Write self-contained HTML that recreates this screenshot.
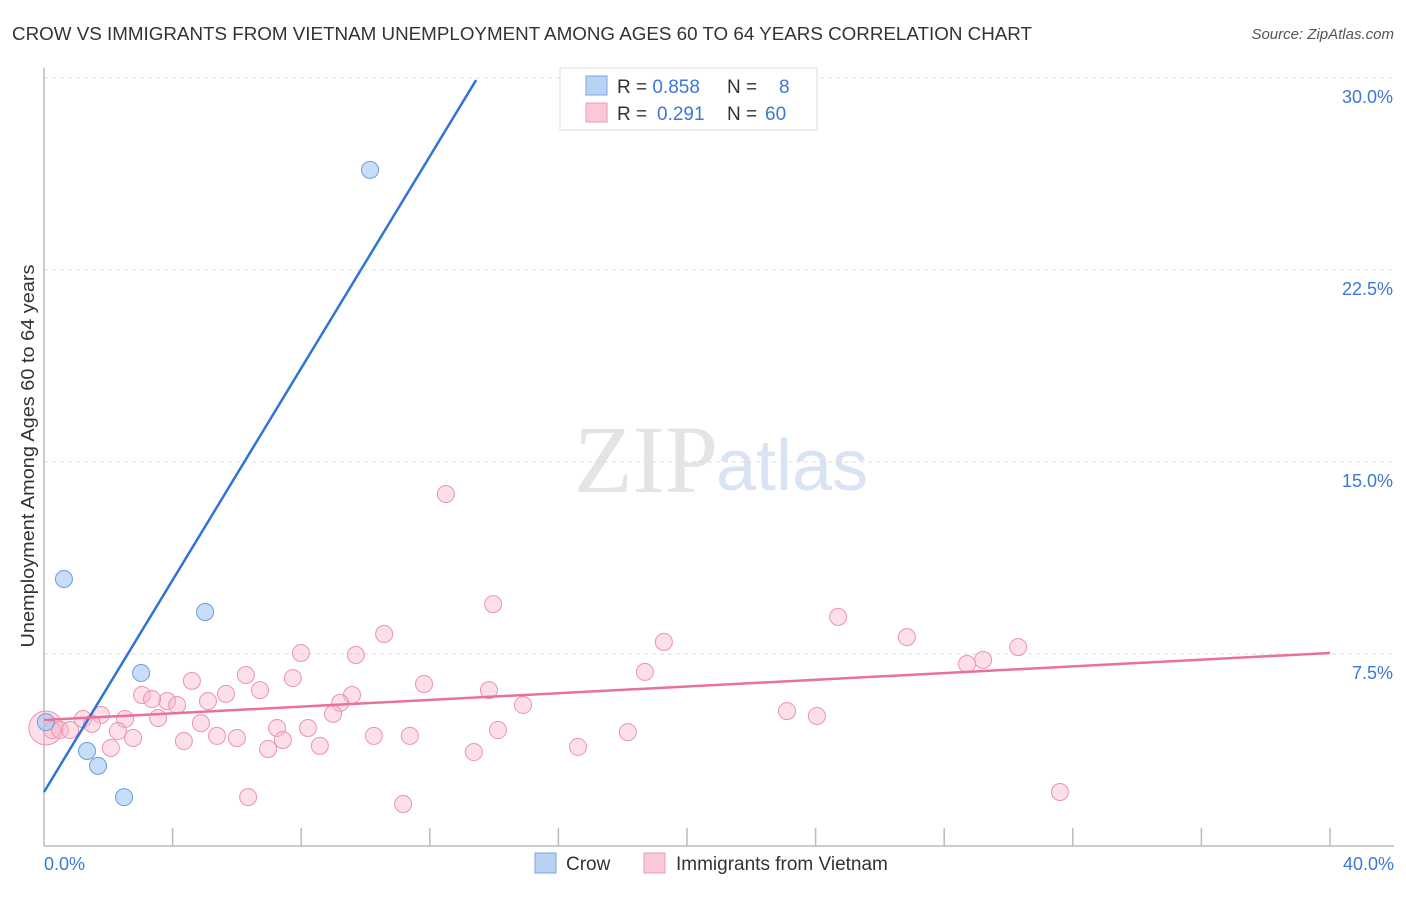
<!DOCTYPE html>
<html><head><meta charset="utf-8"><style>
body{margin:0;background:#fff;font-family:"Liberation Sans",sans-serif}
</style></head><body>
<svg width="1406" height="892" xmlns="http://www.w3.org/2000/svg" font-family="Liberation Sans, sans-serif">
<text x="12" y="40" font-size="18" fill="#333" textLength="1020" lengthAdjust="spacingAndGlyphs">CROW VS IMMIGRANTS FROM VIETNAM UNEMPLOYMENT AMONG AGES 60 TO 64 YEARS CORRELATION CHART</text>
<text x="1394" y="39" font-size="15" fill="#555" text-anchor="end" font-style="italic">Source: ZipAtlas.com</text>
<text x="718" y="492" font-size="96" fill="#e4e4e4" text-anchor="end" font-family="Liberation Serif, serif">ZIP</text>
<text x="716" y="490" font-size="72" fill="#d8e4f4">atlas</text>
<g id="grid"></g>
<line x1="44" y1="68" x2="44" y2="846" stroke="#bbb" stroke-width="1.5"/>
<line x1="44" y1="846" x2="1394" y2="846" stroke="#bbb" stroke-width="1.5"/>
<g id="ticks"></g>
<text transform="translate(34,456) rotate(-90)" font-size="18" fill="#333" text-anchor="middle" textLength="383" lengthAdjust="spacingAndGlyphs">Unemployment Among Ages 60 to 64 years</text>
<text x="44" y="870" font-size="18" fill="#3b78d8">0.0%</text>
<text x="1394" y="870" font-size="18" fill="#3b78d8" text-anchor="end">40.0%</text>
<g id="pts"></g>
<g id="lines"></g>
<g>
<rect x="560" y="68" width="257" height="62" fill="#fff" stroke="#ddd"/>
<rect x="586" y="76" width="21" height="19" fill="#b8d2f4" stroke="#7aa6e2"/>
<rect x="586" y="103" width="21" height="19" fill="#fac8d6" stroke="#eb9ab4"/>
<text x="617" y="93" font-size="19" fill="#333">R = <tspan fill="#3b78d8">0.858</tspan><tspan x="727">N =</tspan><tspan x="779" fill="#3b78d8">8</tspan></text>
<text x="617" y="120" font-size="19" fill="#333">R = <tspan x="657" fill="#3b78d8">0.291</tspan><tspan x="727">N =</tspan><tspan x="765" fill="#3b78d8">60</tspan></text>
</g>
<g>
<rect x="535" y="853" width="21" height="20" fill="#b8d2f4" stroke="#7aa6e2"/>
<text x="566" y="870" font-size="19" fill="#333">Crow</text>
<rect x="644" y="853" width="21" height="20" fill="#fac8d6" stroke="#eb9ab4"/>
<text x="676" y="870" font-size="19" fill="#333">Immigrants from Vietnam</text>
</g>
</svg>
<script>
const yTicks=[7.5,15,22.5,30];
const yTickLabels=["7.5%","15.0%","22.5%","30.0%"];
const xTicks=[4,8,12,16,20,24,28,32,36,40];
const crowX=[10.14,0.62,5.01,3.02,0.06,1.34,1.68,2.49];
const crowY=[26.41,10.43,9.14,6.76,4.84,3.71,3.13,1.91];
const vietX=[12.50,13.97,24.70,26.84,30.30,19.28,10.58,7.99,9.70,29.21,28.71,18.69,6.28,4.60,7.74,6.72,13.84,9.58,3.05,5.66,3.83,5.10,3.36,4.14,9.21,14.90,23.11,24.04,8.99,3.55,2.52,1.77,1.21,4.88,1.49,7.25,8.21,14.12,18.16,2.30,2.77,5.38,6.00,10.26,11.38,7.43,4.35,2.08,8.58,6.97,16.61,13.37,6.35,11.17,31.60,0.06,0.25,0.50,0.81,11.82];
const vietY=[13.75,9.45,8.95,8.16,7.77,7.97,8.28,7.54,7.46,7.27,7.11,6.80,6.68,6.45,6.56,6.09,6.09,5.90,5.90,5.94,5.66,5.66,5.74,5.51,5.59,5.51,5.27,5.08,5.16,5.00,4.96,5.12,4.96,4.80,4.77,4.61,4.61,4.53,4.45,4.49,4.22,4.30,4.22,4.30,4.30,4.14,4.10,3.83,3.91,3.79,3.87,3.67,1.91,1.64,2.11,4.61,4.53,4.53,4.53,6.33];
const crowLine=[[0,2.11],[13.44,29.92]];
const vietLine=[[0,4.92],[40,7.54]];
const X=v=>44+v*32.15, Y=v=>846-v*25.6;
const NS="http://www.w3.org/2000/svg";
function mk(t,a,p){const e=document.createElementNS(NS,t);for(const k in a)e.setAttribute(k,a[k]);document.getElementById(p).appendChild(e);return e;}
yTicks.forEach((v,i)=>{
 const l=mk('line',{x1:44,x2:1394,y1:Y(v),y2:Y(v),stroke:'#ddd','stroke-dasharray':'4,4'},'grid');
 
 
 const t=mk('text',{x:1393,y:Y(v)+25,'font-size':18,fill:'#3b78d8','text-anchor':'end'},'grid');
 t.textContent=yTickLabels[i];
 
 
});
xTicks.forEach(v=>{
 const l=mk('line',{x1:X(v),x2:X(v),y1:828,y2:846,stroke:'#bbb','stroke-width':1.5},'ticks');
 
 
});
vietX.forEach((x,i)=>{
 const c=mk('circle',{cx:X(x),cy:Y(vietY[i]),r:i==55?17:8.5,fill:'rgba(248,184,204,0.45)',stroke:'#eb94b0','stroke-width':1},'pts');
 
 
});
crowX.forEach((x,i)=>{
 const c=mk('circle',{cx:X(x),cy:Y(crowY[i]),r:8.5,fill:'rgba(164,198,242,0.6)',stroke:'#6a9ee0','stroke-width':1},'pts');
 
 
});
const bl=mk('line',{x1:X(crowLine[0][0]),y1:Y(crowLine[0][1]),x2:X(crowLine[1][0]),y2:Y(crowLine[1][1]),stroke:'#2f74d6','stroke-width':2.5},'lines');


const pl=mk('line',{x1:X(vietLine[0][0]),y1:Y(vietLine[0][1]),x2:X(vietLine[1][0]),y2:Y(vietLine[1][1]),stroke:'#e8709a','stroke-width':2.5},'lines');


</script>
</body></html>
